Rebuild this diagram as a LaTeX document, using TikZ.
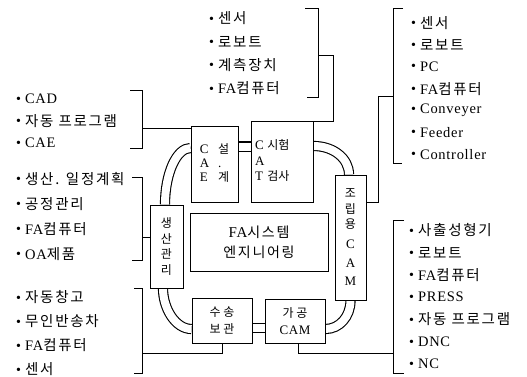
\documentclass[tikz,border=0pt]{standalone}
\usepackage{fontspec}
\setmainfont{Liberation Serif}[LetterSpace=5]
\newfontfamily\kr{Noto Sans CJK KR}[LetterSpace=12]
\newfontfamily\krb{Noto Sans CJK KR}
\newcommand\blt{\raisebox{0.5pt}{\fontsize{14}{14}\selectfont\textbullet}\hspace{4pt}}
\usetikzlibrary{positioning,backgrounds}

\begin{document}
\begin{tikzpicture}[
  x=1pt, y=-1pt,
  every node/.style={align=center, inner sep=1pt},
  line width=1pt,
  unit/.style={draw, fill=white, inner sep=0pt, font=\fontsize{13}{15.5}\selectfont}, % boxes round the centre
  item/.style={anchor=west, inner sep=0pt, font=\fontsize{14.5}{15}\selectfont},   % list entries
  link/.style={double, double distance=8pt, line width=1.1pt}                    % double tracks
]
\useasboundingbox (0,0) rectangle (527,377);

% the seven units
\node[unit, minimum width=138pt, minimum height=58pt, font=\fontsize{15}{20}\selectfont] (fa) at (259,242) {FA{\kr\fontsize{14}{20}\selectfont 시스템}\\{\kr\fontsize{14}{20}\selectfont 엔지니어링}};
\node[unit, minimum width=47pt, minimum height=75pt, font=\fontsize{13}{13.5}\selectfont] (cae) at (214.5,164.5)
  {\begin{tabular}{@{}l@{\hspace{9pt}}l@{}}C&{\krb\fontsize{12}{13.5}\selectfont 설}\\A&.\\E&{\krb\fontsize{12}{13.5}\selectfont 계}\end{tabular}};
\node[unit, text width=54pt, inner xsep=4pt, minimum height=80pt, align=left] (cat) at (282,162)
  {\begin{tabular}{@{}l@{\hspace{3pt}}l@{}}C&{\krb\fontsize{12}{15.5}\selectfont 시험}\\A&\\T&{\krb\fontsize{12}{15.5}\selectfont 검사}\end{tabular}};
\node[unit, minimum width=33pt, minimum height=83pt, font=\fontsize{12}{15.7}\selectfont] (sgm) at (166.5,246.5)
  {{\krb 생}\\{\krb 산}\\{\krb 관}\\{\krb 리}};
\node[unit, minimum width=31pt, minimum height=125pt] (jrcam) at (350.5,237.5)
  {{\krb\fontsize{12}{15.5}\selectfont 조}\\{\krb\fontsize{12}{15.5}\selectfont 립}\\{\krb\fontsize{12}{15.5}\selectfont 용}\\[4.5pt]C\\[3.5pt]A\\[2.5pt]M};
\node[unit, minimum width=60pt, minimum height=45pt, font=\fontsize{12}{17}\selectfont] (ss) at (222,320.5) {{\krb 수 송}\\{\krb 보 관}};
\node[unit, minimum width=60pt, minimum height=44pt, font=\fontsize{13}{17}\selectfont] (gg) at (295,321) {{\krb\fontsize{12}{17}\selectfont 가 공}\\CAM};

% double tracks between units
\begin{pgfonlayer}{background}
\draw[link] ([yshift=18pt]cae.east) -- ([yshift=15.5pt]cat.west);
\draw[link] ([yshift=-7.5pt]ss.east) -- ([yshift=-7pt]gg.west);
\draw[link] ([yshift=16.5pt]cae.west) .. controls +(-14,0) and +(0,-31) .. ([xshift=-1.5pt]sgm.north);
\draw[link] ([yshift=16pt]cat.east) .. controls +(20,0) and +(0,-16) .. ([xshift=-1.5pt]jrcam.north);
\draw[link] ([xshift=-3.5pt]sgm.south) .. controls +(0,20) and +(-16,0) .. ([yshift=-8.5pt]ss.west);
\draw[link] (jrcam.south) .. controls +(0,16) and +(14,0) .. ([yshift=-8pt]gg.east);
\end{pgfonlayer}

% lists
\foreach \t [count=\i] in {CAD, {\kr 자동 프로그램}, CAE}
  \node[item] (eng\i) at (16, 77+22*\i) {\blt\t};
\foreach \t [count=\i] in {{\kr 생산. 일정계획}, {\kr 공정관리}, {FA{\kr 컴퓨터}}, {OA{\kr 제품}}}
  \node[item] (plan\i) at (16, 154+25*\i) {\blt\t};
\foreach \t [count=\i] in {{\kr 자동창고}, {\kr 무인반송차}, {FA{\kr 컴퓨터}}, {\kr 센서}}
  \node[item] (store\i) at (16, 273.5+24*\i) {\blt\t};
\foreach \t [count=\i] in {{\kr 센서}, {\kr 로보트}, {\kr 계측장치}, {FA{\kr 컴퓨터}}}
  \node[item] (sens\i) at (209, -5+23.3*\i) {\blt\t};
\foreach \t [count=\i] in {{\kr 센서}, {\kr 로보트}, PC, {FA{\kr 컴퓨터}}, Conveyer, Feeder, Controller}
  \node[item] (asm\i) at (411, 1+21.9*\i) {\blt\t};
\foreach \t [count=\i] in {{\kr 사출성형기}, {\kr 로보트}, {FA{\kr 컴퓨터}}, PRESS, {\kr 자동 프로그램}, DNC, NC}
  \node[item] (mach\i) at (409, 208+22.3*\i) {\blt\t};

% brackets
\draw (130,90) -- (142,90) -- (142,148) -- (130,148);
\draw (132,177) -- (142,177) -- (142,260) -- (132,260);
\draw (134,288) -- (142,288) -- (142,373) -- (134,373);
\draw (305,8) -- (318,8) -- (318,97) -- (307,97);
\draw (403,8) -- (393,8) -- (393,163) -- (402,163);
\draw (404,220) -- (393,220) -- (393,373) -- (404,373);

% bracket to unit
\coordinate (engb) at (142,128);
\coordinate (planb) at (142,237);
\coordinate (storeb) at (142,353);
\coordinate (sensb) at (318,55);
\coordinate (asmb) at (393,96);
\coordinate (machb) at (393,353);
\draw (engb) -- (engb -| cae.west);
\draw (planb) -- (planb -| sgm.west);
\draw (storeb) -| (ss.south);
\draw (sensb) -- ++(15,0) |- (cat.north east);
\draw (asmb) -- ++(-15,0) |- ([yshift=35.5pt]jrcam.east);
\draw (machb) -| ([xshift=3pt]gg.south);
\end{tikzpicture}
\end{document}
